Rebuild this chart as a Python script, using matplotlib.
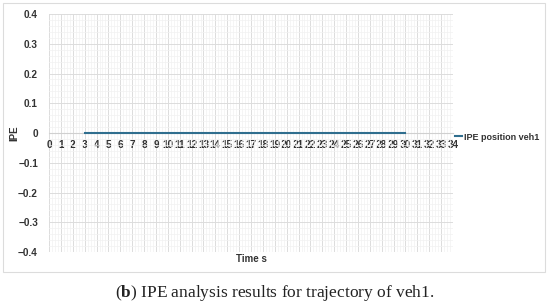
import matplotlib
matplotlib.use("Agg")
import matplotlib.pyplot as plt
from matplotlib.ticker import MultipleLocator
from matplotlib.patches import Rectangle

# data
time_s = [3, 4, 5, 6, 7, 8, 9, 10, 11, 12, 13, 14, 15, 16, 17, 18, 19, 20,
          21, 22, 23, 24, 25, 26, 27, 28, 29, 30]
ipe_veh1 = [0, 0, 0, 0, 0, 0, 0, 0, 0, 0, 0, 0, 0, 0, 0, 0, 0, 0,
            0, 0, 0, 0, 0, 0, 0, 0, 0, 0]
x_ticks = list(range(0, 35))
y_ticks = [-0.4, -0.3, -0.2, -0.1, 0, 0.1, 0.2, 0.3, 0.4]

plt.rcParams['font.family'] = ['Liberation Sans', 'DejaVu Sans']
plt.rcParams['mathtext.fontset'] = 'custom'
plt.rcParams['mathtext.rm'] = 'Liberation Serif'
plt.rcParams['mathtext.bf'] = 'Liberation Serif:bold'

fig = plt.figure(figsize=(5.5, 3.05), dpi=100)
ax = fig.add_axes([49 / 550, 1 - 252 / 305, 404 / 550, 238 / 305])

ax.plot(time_s, ipe_veh1, color='#2f6e8e', linewidth=1.5, label='IPE position veh1', zorder=3)

ax.set_xlim(0, 34)
ax.set_ylim(-0.4, 0.4)
ax.set_xticks(x_ticks)
ax.set_yticks(y_ticks)
ax.set_yticklabels(['\u22120.4', '\u22120.3', '\u22120.2', '\u22120.1', '0', '0.1', '0.2', '0.3', '0.4'])
ax.xaxis.set_minor_locator(MultipleLocator(0.25))
ax.yaxis.set_minor_locator(MultipleLocator(0.02))

ax.grid(which='major', color='#dcdcdc', linewidth=0.7)
ax.grid(which='minor', color='#f2f2f2', linewidth=0.5)
ax.set_axisbelow(True)

for side in ['left', 'top', 'right']:
    ax.spines[side].set_visible(False)
ax.spines['bottom'].set_position(('data', 0))
ax.spines['bottom'].set_color('#d0d0d0')
ax.spines['bottom'].set_linewidth(0.8)

ax.tick_params(which='both', length=0)
ax.tick_params(axis='x', pad=5, labelsize=7.2, labelcolor='#333333')
ax.tick_params(axis='y', pad=8, labelsize=7.2, labelcolor='#333333')
for lab in ax.get_xticklabels() + ax.get_yticklabels():
    lab.set_fontweight('bold')

ax.set_ylabel('IPE', fontsize=7, fontweight='bold', color='#333333')
ax.yaxis.set_label_coords(-0.074, 0.5)
ax.set_xlabel('Time s', fontsize=7, fontweight='bold', color='#333333')
ax.xaxis.set_label_coords(0.502, -0.008)

leg = ax.legend(loc='center left', bbox_to_anchor=(1.005, 0.483), frameon=False,
                handlelength=0.8, handletextpad=0.15, borderaxespad=0, borderpad=0,
                prop={'size': 6.5, 'weight': 'bold'})
for t in leg.get_texts():
    t.set_color('#333333')

# light frame around the chart
fig.patches.append(Rectangle((3 / 550, 1 - 272 / 305), 542 / 550, 269 / 305,
                             transform=fig.transFigure, fill=False,
                             edgecolor='#dcdcdc', linewidth=0.8))

fig.text(0.5, 1 - 293 / 305, r'($\mathbf{b}$) IPE analysis results for trajectory of veh1.',
         ha='center', va='center', fontsize=12.5, family='Liberation Serif', color='#222222')

fig.savefig('out.png', dpi=100)
